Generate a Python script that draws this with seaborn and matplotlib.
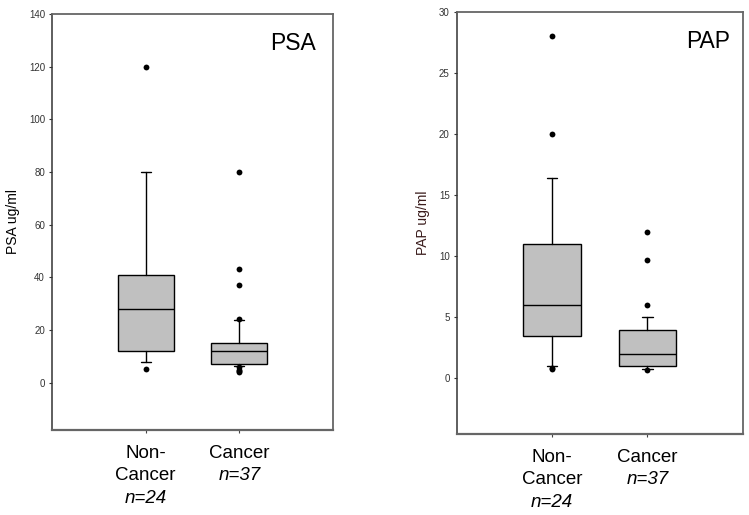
import pandas as pd
import matplotlib
matplotlib.use('Agg')
import matplotlib.pyplot as plt
import seaborn as sns

# data (box summaries + outlying points)
groups = ["Non-Cancer", "Cancer"]
group_labels = ["Non-\nCancer", "Cancer"]
group_n = ["n=24", "n=37"]

psa_q1 = [12, 7]
psa_median = [28, 12]
psa_q3 = [41, 15]
psa_whislo = [8, 6.2]
psa_whishi = [80, 23.8]
psa_out_noncancer = [120, 5.3]
psa_out_cancer = [80, 43, 37, 24, 5.9, 4.9, 4.4, 4.0]

pap_q1 = [3.45, 1.0]
pap_median = [6.0, 2.0]
pap_q3 = [11.0, 3.95]
pap_whislo = [1.0, 0.78]
pap_whishi = [16.4, 5.0]
pap_out_noncancer = [28, 20, 0.85, 0.75]
pap_out_cancer = [12, 9.7, 6.0, 0.73]

sns.set_style("ticks")
plt.rcParams['font.family'] = ['Liberation Sans', 'DejaVu Sans']
plt.rcParams['text.color'] = 'black'


def draw_panel(ax, q1, med, q3, wlo, whi, out_nc, out_c, ylim, yticks, title, ylabel, ylabel_color, title_x):
    stats = []
    for i in range(len(groups)):
        stats.append({'q1': q1[i], 'med': med[i], 'q3': q3[i],
                      'whislo': wlo[i], 'whishi': whi[i], 'fliers': []})
    ax.bxp(stats, positions=[0, 1], widths=0.6, capwidths=0.11, patch_artist=True,
           showfliers=False, manage_ticks=False,
           boxprops=dict(facecolor='#c0c0c0', edgecolor='black', linewidth=1.0),
           medianprops=dict(color='black', linewidth=1.0),
           whiskerprops=dict(color='black', linewidth=1.0),
           capprops=dict(color='black', linewidth=1.0))

    pts = pd.DataFrame({'group': [groups[0]] * len(out_nc) + [groups[1]] * len(out_c),
                        'value': out_nc + out_c})
    sns.stripplot(data=pts, x='group', y='value', order=groups, jitter=False,
                  color='black', size=4.2, ax=ax, zorder=4)

    ax.set_xlim(-1, 2)
    ax.set_ylim(*ylim)
    ax.set_yticks(yticks)
    ax.set_xticks([0, 1])
    ax.set_xticklabels(group_labels, fontsize=13.5, color='black', va='top', linespacing=1.38)
    ax.set_xlabel('')
    ax.tick_params(axis='x', length=2.5, width=0.8, pad=8.5, color='#444444')
    ax.tick_params(axis='y', length=2.5, width=0.8, pad=2.5, labelsize=7, labelcolor='#333333', color='#333333')

    offsets = [-49, -32.5]
    for i, lab in enumerate(group_n):
        ax.annotate(lab, xy=(i, 0), xycoords=('data', 'axes fraction'),
                    xytext=(0, offsets[i]), textcoords='offset points',
                    ha='center', va='center', fontsize=13.5, style='italic', color='black')

    for side in ['left']:
        ax.spines[side].set_color('#333333')
        ax.spines[side].set_linewidth(1.1)
    for side in ['top', 'right']:
        ax.spines[side].set_color('#666666')
        ax.spines[side].set_linewidth(1.3)
    ax.spines['bottom'].set_color('#666666')
    ax.spines['bottom'].set_linewidth(1.6)

    ax.text(title_x, 0.93, title, transform=ax.transAxes, ha='right', va='center',
            fontsize=16.5, color='black')
    ax.set_ylabel(ylabel, fontsize=10, color=ylabel_color)
    ax.grid(False)


fig = plt.figure(figsize=(7.49, 5.15), dpi=100)
ax1 = fig.add_axes([52 / 749, 1 - 430 / 515, 281 / 749, 416 / 515])
ax2 = fig.add_axes([456.7 / 749, 1 - 434 / 515, 286 / 749, 422 / 515])

draw_panel(ax1, psa_q1, psa_median, psa_q3, psa_whislo, psa_whishi,
           psa_out_noncancer, psa_out_cancer, (-18, 140), range(0, 141, 20),
           'PSA', 'PSA ug/ml', 'black', 0.94)
draw_panel(ax2, pap_q1, pap_median, pap_q3, pap_whislo, pap_whishi,
           pap_out_noncancer, pap_out_cancer, (-4.55, 30), range(0, 31, 5),
           'PAP', 'PAP ug/ml', '#3a1c1c', 0.956)

ax1.yaxis.set_label_coords(-39 / 281, 0.5)
ax1.yaxis.label.set_va('center')
ax2.yaxis.set_label_coords(-34 / 286, 0.5)
ax2.yaxis.label.set_va('center')

fig.savefig('out.png', dpi=100)
